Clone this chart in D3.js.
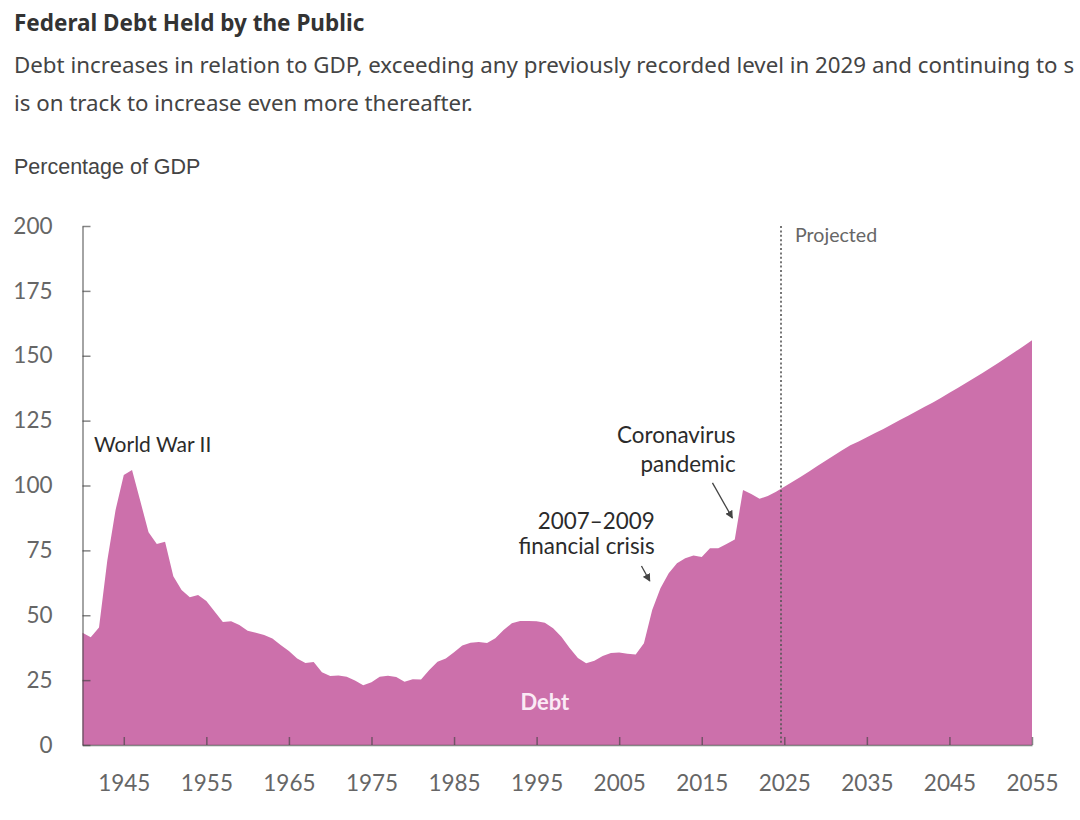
<!DOCTYPE html>
<meta charset="utf-8">
<script src="https://d3js.org/d3.v7.min.js"></script>
<style>
  body { margin: 0; background: #fff; }
  text { fill: #333; }
  .title { font-family: "Noto Sans"; font-weight: 700; font-size: 22.5px; fill: #333; }
  .subtitle { font-family: "Noto Sans"; font-size: 22.3px; fill: #444; }
  .unit { font-family: "Liberation Sans"; font-size: 21.5px; fill: #444; }
  .axis text { font-family: Lato; font-size: 22.5px; fill: #666; }
  .axis line, .axis path { stroke: #444; stroke-opacity: 0.65; stroke-width: 1.5; }
  .note { font-family: Lato; font-size: 22.4px; fill: #2b2b2b; }
  .note.wide { font-size: 21px; }
</style>
<body>
<script>

// Values
var years = d3.range(1940, 2056);
var debt = [
  43.3, 41.5, 45.3, 71, 90.5, 104, 106, 94, 82, 77.5,
  78.3, 65, 59.7, 56.9, 57.8, 55.5, 51.4, 47.4, 47.7, 46.2,
  44, 43.3, 42.4, 41, 38.5, 36.2, 33.3, 31.6, 32, 28,
  26.6, 26.8, 26.3, 24.9, 23, 24.2, 26.3, 26.7, 26.2, 24.4,
  25.3, 25.2, 28.9, 32.1, 33.3, 35.7, 38.3, 39.4, 39.7, 39.3,
  41.1, 44.3, 46.9, 47.8, 47.8, 47.7, 47.1, 45, 41.7, 37.4,
  33.5, 31.5, 32.5, 34.3, 35.5, 35.6, 35.2, 34.9, 39.2, 52,
  60.4, 66.2, 70, 72, 73, 72.4, 75.8, 75.8, 77.5, 79.2,
  98.3, 96.7, 94.9, 96, 97.6, 99.5, 101.4, 103.4, 105.4, 107.5,
  109.5, 111.6, 113.6, 115.5, 117, 118.6, 120.2, 121.8, 123.5, 125.2,
  126.9, 128.6, 130.3, 132, 133.8, 135.7, 137.6, 139.5, 141.4, 143.4,
  145.4, 147.4, 149.5, 151.6, 153.8, 156
];
var xTicks = d3.range(1945, 2056, 10);
var yTicks = [0, 25, 50, 75, 100, 125, 150, 175, 200];
var projectedFrom = 2024.6;

// Labels and arrows, in chart units (year, percent)
var notes = [
  {text: "World War II", year: 1941.4, value: 113, anchor: "start"},
  {text: "Coronavirus", year: 2019.1, value: 116.4, anchor: "end"},
  {text: "pandemic", year: 2019.1, value: 105.2, anchor: "end"},
  {text: "2007\u20132009", year: 2009.3, value: 83.1, anchor: "end"},
  {text: "financial crisis", year: 2009.3, value: 73.6, anchor: "end"}
];
var arrows = [
  {from: [2016.3, 101], to: [2018.7, 87.5]},
  {from: [2007.7, 69], to: [2008.7, 63.2]}
];

var width = 1080, height = 820;
var margin = {top: 226, right: 48, bottom: 75, left: 82.5};

var svg = d3.select("body").append("svg")
    .attr("width", width)
    .attr("height", height);

svg.append("defs").append("marker")
    .attr("id", "head")
    .attr("viewBox", "0 0 8 8")
    .attr("refX", 7).attr("refY", 4)
    .attr("markerWidth", 8).attr("markerHeight", 8)
    .attr("markerUnits", "userSpaceOnUse")
    .attr("orient", "auto")
  .append("path")
    .attr("d", "M0,0L8,4L0,8Z")
    .attr("fill", "#444");

// Heading
svg.append("text").attr("class", "title").attr("x", 14).attr("y", 31)
  .text("Federal Debt Held by the Public");
svg.append("text").attr("class", "subtitle").attr("x", 14).attr("y", 73)
  .text("Debt increases in relation to GDP, exceeding any previously recorded level in 2029 and continuing to s");
svg.append("text").attr("class", "subtitle").attr("x", 14).attr("y", 111)
  .text("is on track to increase even more thereafter.");
svg.append("text").attr("class", "unit").attr("x", 14).attr("y", 174)
  .text("Percentage of GDP");

var x = d3.scaleLinear()
  .domain([1940, 2055])
  .range([margin.left, width - margin.right]);

var y = d3.scaleLinear()
  .domain([0, 200])
  .range([height - margin.bottom, margin.top]);

var area = d3.area()
  .x(function(d, i) { return x(years[i]); })
  .y0(y(0))
  .y1(function(d) { return y(d); });

svg.append("path")
  .datum(debt)
  .attr("d", area)
  .attr("fill", "#cc70ab");

// Axes
svg.append("g")
  .attr("class", "axis")
  .attr("transform", "translate(" + x(1940) + ",0)")
  .call(d3.axisLeft(y).tickValues(yTicks).tickSize(-8).tickSizeOuter(0).tickPadding(30));

svg.append("g")
  .attr("class", "axis")
  .attr("transform", "translate(0," + y(0) + ")")
  .call(d3.axisBottom(x).tickValues(xTicks).tickFormat(d3.format("d")).tickSize(-8).tickSizeOuter(0).tickPadding(30));

// Projection divider
svg.append("line")
  .attr("x1", x(projectedFrom)).attr("x2", x(projectedFrom))
  .attr("y1", y(200)).attr("y2", y(0))
  .attr("stroke", "#555")
  .attr("stroke-width", 1.6)
  .attr("stroke-dasharray", "2,2.4");

svg.append("text")
  .attr("x", x(2026.3)).attr("y", y(193.8))
  .style("font-family", "Lato").style("font-size", "19.6px").style("fill", "#666")
  .text("Projected");

svg.append("text")
  .attr("x", x(1996)).attr("y", y(13.5))
  .attr("text-anchor", "middle")
  .style("font-family", "Lato").style("font-size", "22px").style("font-weight", 700).style("fill", "#fbeaf5")
  .text("Debt");

svg.selectAll(".note")
    .data(notes)
  .enter().append("text")
    .attr("class", function(d) { return d.text == "World War II" ? "note wide" : "note"; })
    .attr("x", function(d) { return x(d.year); })
    .attr("y", function(d) { return y(d.value); })
    .attr("text-anchor", function(d) { return d.anchor; })
    .text(function(d) { return d.text; });

svg.selectAll(".arrow")
    .data(arrows)
  .enter().append("line")
    .attr("class", "arrow")
    .attr("x1", function(d) { return x(d.from[0]); })
    .attr("y1", function(d) { return y(d.from[1]); })
    .attr("x2", function(d) { return x(d.to[0]); })
    .attr("y2", function(d) { return y(d.to[1]); })
    .attr("stroke", "#444")
    .attr("stroke-width", 1.3)
    .attr("marker-end", "url(#head)");

</script>
</body>
</html>
